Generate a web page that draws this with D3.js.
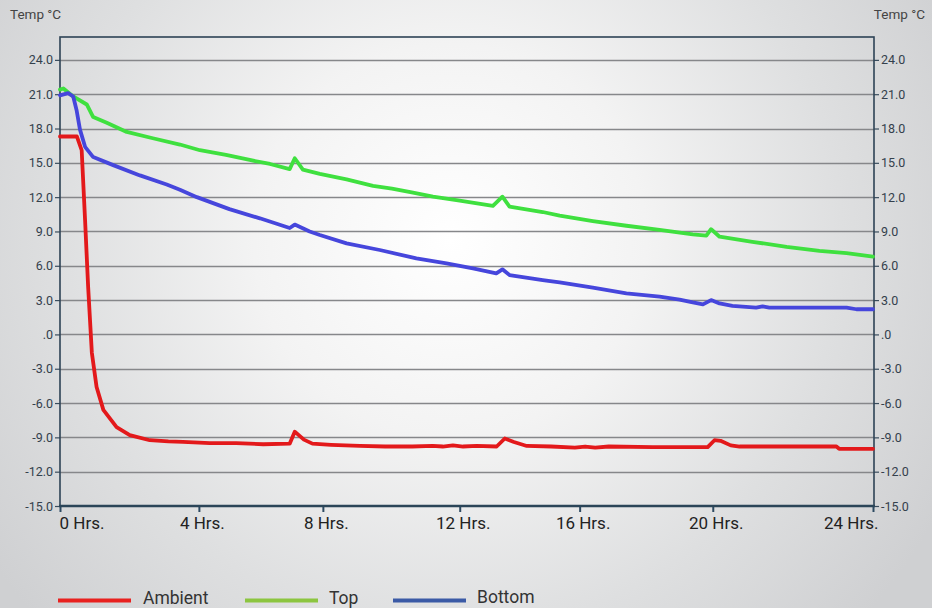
<!DOCTYPE html>
<html>
<head>
<meta charset="utf-8">
<script src="https://cdn.jsdelivr.net/npm/d3@7"></script>
<style>
  html, body { margin: 0; padding: 0; }
  body { width: 932px; height: 608px; overflow: hidden; }
  svg { display: block; }
</style>
</head>
<body>
<svg id="chart" width="932" height="608"></svg>
<script>
// Temperature log, 24 hours, three probes: [hours, °C]
const ambientTemps = [
  [0,17.3],[0.5,17.3],[0.64,16.1],[0.74,10.0],[0.83,4.2],[0.94,-1.6],[1.08,-4.6],
  [1.28,-6.6],[1.67,-8.1],[2.06,-8.8],[2.65,-9.25],[3.2,-9.35],[3.63,-9.4],[4.42,-9.5],
  [5.2,-9.5],[6.0,-9.6],[6.78,-9.55],[6.93,-8.5],[7.2,-9.2],[7.45,-9.55],[8.0,-9.65],
  [8.85,-9.75],[9.6,-9.8],[10.4,-9.8],[11.0,-9.75],[11.3,-9.8],[11.6,-9.7],[11.9,-9.8],
  [12.3,-9.75],[12.89,-9.8],[13.13,-9.1],[13.4,-9.4],[13.78,-9.75],[14.5,-9.8],
  [15.2,-9.9],[15.5,-9.8],[15.8,-9.9],[16.2,-9.8],[17.5,-9.85],[18.5,-9.85],
  [19.12,-9.85],[19.32,-9.25],[19.5,-9.3],[19.8,-9.7],[20.06,-9.8],[21,-9.8],
  [22,-9.8],[22.92,-9.8],[23.0,-10.0],[24,-10.0]
];
const topTemps = [
  [0,21.4],[0.1,21.5],[0.39,20.8],[0.79,20.1],[0.98,19.0],[1.38,18.5],[1.97,17.7],
  [2.74,17.15],[3.54,16.6],[4.13,16.1],[4.9,15.7],[5.6,15.25],[6.2,14.9],[6.78,14.45],
  [6.93,15.4],[7.17,14.4],[7.67,14.03],[8.46,13.56],[9.24,12.98],[9.8,12.75],
  [10.42,12.4],[11.01,12.04],[11.8,11.7],[12.78,11.23],[13.06,12.04],[13.27,11.17],
  [14.25,10.7],[14.75,10.38],[15.73,9.91],[16.72,9.5],[17.7,9.13],[18.68,8.75],
  [19.08,8.63],[19.22,9.2],[19.47,8.54],[20.44,8.1],[21.45,7.65],[22.42,7.3],
  [23.22,7.1],[24,6.8]
];
const bottomTemps = [
  [0,20.9],[0.24,21.1],[0.39,20.8],[0.49,19.6],[0.59,17.9],[0.74,16.4],[0.98,15.5],
  [1.57,14.8],[2.36,13.9],[3.15,13.1],[3.54,12.65],[4.04,12.0],[5.0,10.95],[5.9,10.15],
  [6.78,9.3],[6.93,9.6],[7.37,9.0],[7.67,8.69],[8.46,7.96],[9.44,7.38],[10.52,6.65],
  [11.41,6.21],[12.19,5.77],[12.88,5.34],[13.06,5.69],[13.27,5.19],[14.25,4.75],
  [14.75,4.55],[15.73,4.08],[16.72,3.59],[17.7,3.3],[18.29,3.05],[18.68,2.8],
  [18.98,2.63],[19.22,3.0],[19.47,2.71],[19.85,2.5],[20.55,2.35],[20.74,2.45],
  [20.94,2.35],[23.22,2.35],[23.51,2.2],[24,2.2]
];

// Axis ticks and labels
const yTicks = [-15, -12, -9, -6, -3, 0, 3, 6, 9, 12, 15, 18, 21, 24];
const xTickHours = [0, 4.1, 7.76, 11.8, 15.34, 19.27, 24];
const xTickLabels = ["0 Hrs.", "4 Hrs.", "8 Hrs.", "12 Hrs.", "16 Hrs.", "20 Hrs.", "24 Hrs."];
const seriesNames = ["Ambient", "Top", "Bottom"];
const lineColors = ["#e3191b", "#3fe03f", "#4646dc"];
const legendColors = ["#e8211f", "#8cc540", "#3b5aa6"];
const axisTitle = "Temp \u00B0C";

const svg = d3.select("#chart");
const W = 932, H = 608;
const plot = { left: 60, right: 874, top: 37, bottom: 506 };

// Soft radial backdrop
const defs = svg.append("defs");
const grad = defs.append("radialGradient")
  .attr("id", "bg").attr("gradientUnits", "userSpaceOnUse")
  .attr("cx", 450).attr("cy", 240).attr("r", 560);
grad.append("stop").attr("offset", "0%").attr("stop-color", "#ffffff");
grad.append("stop").attr("offset", "35%").attr("stop-color", "#f3f3f3");
grad.append("stop").attr("offset", "70%").attr("stop-color", "#dedfe0");
grad.append("stop").attr("offset", "100%").attr("stop-color", "#cfd0d2");
svg.append("rect").attr("width", W).attr("height", H).attr("fill", "url(#bg)");

const x = d3.scaleLinear().domain([0, 24]).range([plot.left, plot.right - 1]);
const y = d3.scaleLinear().domain([-15, 26]).range([plot.bottom, plot.top]);

const fmtY = d => d === 0 ? ".0" : d3.format(".1f")(d).replace("\u2212", "-");

// Horizontal grid
svg.append("g")
  .selectAll("line").data(yTicks.filter(d => d > -15))
  .join("line")
  .attr("x1", plot.left).attr("x2", plot.right)
  .attr("y1", d => Math.round(y(d)) + 0.5).attr("y2", d => Math.round(y(d)) + 0.5)
  .attr("stroke", "#86878a").attr("stroke-width", 1.3);

// Left and right value axes
const leftAxis = svg.append("g")
  .attr("transform", `translate(${plot.left},0)`)
  .call(d3.axisLeft(y).tickValues(yTicks).tickFormat(fmtY).tickSize(5).tickPadding(2));
const rightAxis = svg.append("g")
  .attr("transform", `translate(${plot.right},0)`)
  .call(d3.axisRight(y).tickValues(yTicks).tickFormat(fmtY).tickSize(5).tickPadding(2));
[leftAxis, rightAxis].forEach(g => {
  g.select(".domain").remove();
  g.selectAll(".tick line").attr("stroke", "#3a4d5e").attr("stroke-width", 1.2);
  g.selectAll(".tick text")
    .attr("fill", "#34404c")
    .style("font-family", "Roboto, 'DejaVu Sans', sans-serif")
    .style("font-size", "12.5px");
});

// Frame
svg.append("rect")
  .attr("x", plot.left).attr("y", plot.top)
  .attr("width", plot.right - plot.left).attr("height", plot.bottom - plot.top)
  .attr("fill", "none").attr("stroke", "#2d4355").attr("stroke-width", 1.6);

// Time axis
const bottomAxis = svg.append("g")
  .attr("transform", `translate(0,${plot.bottom})`)
  .call(d3.axisBottom(x).tickValues(xTickHours)
    .tickFormat((d, i) => xTickLabels[i]).tickSize(6).tickPadding(5));
bottomAxis.select(".domain").remove();
bottomAxis.selectAll(".tick line").attr("stroke", "#2d4a62").attr("stroke-width", 2);
bottomAxis.selectAll(".tick text")
  .attr("fill", "#222")
  .style("font-family", "Roboto, 'DejaVu Sans', sans-serif")
  .style("font-size", "17px")
  .attr("text-anchor", (d, i) => i === 0 ? "start" : (i === xTickHours.length - 1 ? "end" : "middle"))
  .attr("dx", (d, i) => i === 0 ? -1 : (i === xTickHours.length - 1 ? 5 : 3));
svg.append("line")
  .attr("x1", plot.left - 1).attr("x2", plot.right + 1)
  .attr("y1", plot.bottom).attr("y2", plot.bottom)
  .attr("stroke", "#2b4558").attr("stroke-width", 2.6);

// Axis titles
const titleStyle = sel => sel
  .attr("fill", "#444")
  .style("font-family", "Roboto, 'DejaVu Sans', sans-serif")
  .style("font-size", "13.5px");
svg.append("text").attr("x", 10).attr("y", 19).text(axisTitle).call(titleStyle);
svg.append("text").attr("x", 925).attr("y", 19).attr("text-anchor", "end").text(axisTitle).call(titleStyle);

// Series lines
const line = d3.line().x(d => x(d[0])).y(d => y(d[1])).curve(d3.curveLinear);
const series = [ambientTemps, topTemps, bottomTemps];
svg.append("g")
  .selectAll("path").data(series)
  .join("path")
  .attr("d", line)
  .attr("fill", "none")
  .attr("stroke", (d, i) => lineColors[i])
  .attr("stroke-width", 3.8)
  .attr("stroke-linejoin", "round")
  .attr("stroke-linecap", "round");

// Legend
const legendItems = [
  { x1: 58, x2: 131, tx: 143, ty: 604 },
  { x1: 245, x2: 318, tx: 329, ty: 604 },
  { x1: 393, x2: 466, tx: 477, ty: 603 }
];
const legend = svg.append("g");
legendItems.forEach((it, i) => {
  legend.append("line")
    .attr("x1", it.x1).attr("x2", it.x2).attr("y1", 600.5).attr("y2", 600.5)
    .attr("stroke", legendColors[i]).attr("stroke-width", 3.8);
  legend.append("text")
    .attr("x", it.tx).attr("y", it.ty)
    .attr("fill", "#333")
    .style("font-family", "Roboto, 'DejaVu Sans', sans-serif")
    .style("font-size", "17.5px")
    .text(seriesNames[i]);
});
</script>
</body>
</html>
